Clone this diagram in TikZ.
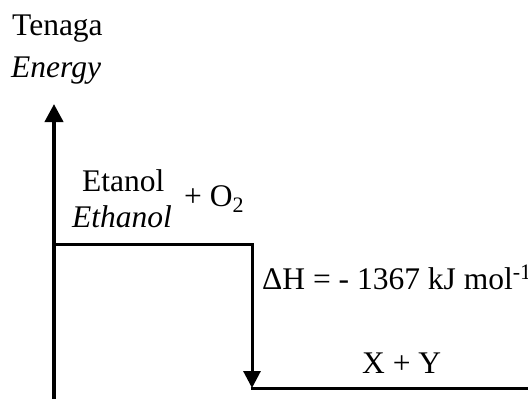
\documentclass[tikz,border=0pt]{standalone}
\usepackage{fontspec}
\setmainfont{Liberation Serif}
\usetikzlibrary{arrows.meta}
\begin{document}
\begin{tikzpicture}[x=1pt,y=-1pt,
  lbl/.style={anchor=base west,inner sep=0pt,font=\fontsize{31.5}{36}\selectfont},
  axisline/.style={line width=4pt,-{Triangle[length=18pt,width=18pt]}},
  levelline/.style={line width=3pt},
  dharrow/.style={line width=3pt,-{Triangle[length=17pt,width=17pt]}}]
\useasboundingbox (0,0) rectangle (528,399);
% texts
\node[lbl] (tenaga) at (12,35) {Tenaga};
\node[lbl] (energy) at (11,77) {\itshape Energy};
\node[lbl] (etanol) at (82,191) {Etanol};
\node[lbl] (ethanol) at (72,227) {\itshape Ethanol};
\node[lbl] (o2) at (184,206) {+ O\textsubscript{2}};
\node[lbl] (dh) at (262,289) {ΔH = - 1367 kJ mol\textsuperscript{-1}};
\node[lbl] (xy) at (362,373) {X + Y};
% coordinates
\coordinate (axbot) at (54,402);
\coordinate (axtop) at (54,104);
\coordinate (upL) at (54,244);
\coordinate (upR) at (252,244);
\coordinate (lowL) at (252,388);
\coordinate (lowR) at (530,388);
% drawing
\draw[axisline] (axbot) -- (axtop);
\draw[levelline] (upL) -- ([xshift=1.5pt]upR);
\draw[dharrow] ([yshift=-1.5pt]upR) -- (lowL);
\draw[levelline] ([xshift=-1.5pt]lowL) -- (lowR);
\end{tikzpicture}
\end{document}
